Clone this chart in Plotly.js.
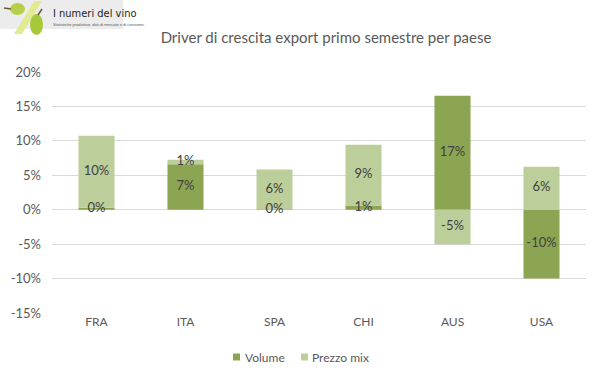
<!DOCTYPE html>
<html>
<head>
<meta charset="utf-8">
<script src="https://cdn.plot.ly/plotly-3.0.1.min.js"></script>
<style>html,body{margin:0;padding:0;background:#fff;}#chart{width:599px;height:378px;}</style>
</head>
<body>
<div id="chart"></div>
<script>
var categories = ["FRA", "ITA", "SPA", "CHI", "AUS", "USA"];
var volume = [0.3, 6.6, 0.05, 0.6, 16.55, -10.0];
var prezzoMix = [10.45, 0.65, 5.8, 8.85, -5.0, 6.25];
var seriesNames = ["Volume", "Prezzo mix"];
var seriesColors = ["#8ca552", "#bccf9a"];
var tickValues = [-15, -10, -5, 0, 5, 10, 15, 20];
var tickLabels = ["-15%", "-10%", "-5%", "0%", "5%", "10%", "15%", "20%"];

var W = 599, H = 378, L = 52, R = 13, T = 72, B = 65;
var pw = W - L - R, ph = H - T - B;
function px(x) { return (x - L) / pw; }
function py(y) { return (H - B - y) / ph; }
function lbl(v) { return Math.round(v) + "%"; }

var textColor = "#404040";
var font = "Lato, 'Liberation Sans', sans-serif";

// label positions: middle of each stacked segment (relative stacking)
var volMid = [], preMid = [];
for (var i = 0; i < categories.length; i++) {
  var pos = 0, neg = 0;
  if (volume[i] >= 0) { volMid.push(volume[i] / 2); pos += volume[i]; }
  else { volMid.push(volume[i] / 2); neg += volume[i]; }
  if (prezzoMix[i] >= 0) preMid.push(pos + prezzoMix[i] / 2);
  else preMid.push(neg + prezzoMix[i] / 2);
}

var traces = [
  {type: "bar", name: seriesNames[0], x: categories, y: volume,
   marker: {color: seriesColors[0]}, hoverinfo: "none", showlegend: false},
  {type: "bar", name: seriesNames[1], x: categories, y: prezzoMix,
   marker: {color: seriesColors[1]}, hoverinfo: "none", showlegend: false},
  {type: "scatter", mode: "text", x: categories, y: volMid, text: volume.map(lbl),
   textposition: "middle center", cliponaxis: false, showlegend: false, hoverinfo: "none",
   textfont: {color: textColor, size: 13, family: font}},
  {type: "scatter", mode: "text", x: categories, y: preMid, text: prezzoMix.map(lbl),
   textposition: "middle center", cliponaxis: false, showlegend: false, hoverinfo: "none",
   textfont: {color: textColor, size: 13, family: font}}
];

var shapes = [
  {type: "rect", xref: "paper", yref: "paper", x0: px(0), x1: px(123), y0: py(29), y1: py(0),
   fillcolor: "#ececec", line: {width: 0}, layer: "above"},
  {type: "path", xref: "paper", yref: "paper",
   path: "M" + px(14) + "," + py(34) + " L" + px(22) + "," + py(34) + " L" + px(42) + "," + py(1) + " L" + px(34) + "," + py(1) + " Z",
   fillcolor: "#e2eb93", line: {width: 0}, layer: "above"},
  {type: "circle", xref: "paper", yref: "paper", x0: px(10), x1: px(25), y0: py(15), y1: py(3),
   fillcolor: "#b5cf4a", line: {width: 0}, layer: "above"},
  {type: "circle", xref: "paper", yref: "paper", x0: px(30), x1: px(43), y0: py(35), y1: py(14),
   fillcolor: "#a8c83c", line: {width: 0}, layer: "above"},
  {type: "line", xref: "paper", yref: "paper", x0: px(4), x1: px(11), y0: py(8), y1: py(9),
   line: {color: "#6b5a2e", width: 1.5}, layer: "above"},
  {type: "line", xref: "paper", yref: "paper", x0: px(38), x1: px(42), y0: py(15), y1: py(9),
   line: {color: "#6b5a2e", width: 1.5}, layer: "above"},
  // legend swatches
  {type: "rect", xref: "paper", yref: "paper", x0: px(233), x1: px(240), y0: py(360.5), y1: py(353.5),
   fillcolor: seriesColors[0], line: {width: 0}},
  {type: "rect", xref: "paper", yref: "paper", x0: px(301), x1: px(308), y0: py(360.5), y1: py(353.5),
   fillcolor: seriesColors[1], line: {width: 0}}
];

var annotations = [
  {text: "I numeri del vino", xref: "paper", yref: "paper", x: px(51), y: py(14),
   xanchor: "left", yanchor: "middle", showarrow: false,
   font: {family: "'Liberation Sans Narrow', 'DejaVu Sans Condensed', sans-serif", size: 11, color: "#222"}},
  {text: "Statistiche produttive, dati di mercato e di consumo.", xref: "paper", yref: "paper",
   x: px(51), y: py(24), xanchor: "left", yanchor: "middle", showarrow: false,
   font: {family: "'Liberation Sans', sans-serif", size: 4, color: "#555"}},
  {text: seriesNames[0], xref: "paper", yref: "paper", x: px(243), y: py(357),
   xanchor: "left", yanchor: "middle", showarrow: false,
   font: {family: font, size: 12, color: "#595959"}},
  {text: seriesNames[1], xref: "paper", yref: "paper", x: px(310), y: py(357),
   xanchor: "left", yanchor: "middle", showarrow: false,
   font: {family: font, size: 12, color: "#595959"}}
];

var layout = {
  width: W, height: H,
  margin: {l: L, r: R, t: T, b: B, pad: 0},
  paper_bgcolor: "#ffffff", plot_bgcolor: "#ffffff",
  font: {family: font, color: "#595959", size: 12},
  title: {text: "Driver di crescita export primo semestre per paese",
          font: {family: font, size: 15, color: "#595959"},
          xref: "container", yref: "container", x: 326 / W, y: 1 - 38 / H,
          xanchor: "center", yanchor: "middle"},
  barmode: "relative",
  bargap: 0.595,
  showlegend: false,
  xaxis: {type: "category", showgrid: false, zeroline: false, showline: false,
          ticks: "", tickfont: {size: 12, color: "#595959", family: font}},
  yaxis: {range: [-15, 20], tickvals: tickValues, ticktext: tickLabels,
          showgrid: true, gridcolor: "#d9d9d9", gridwidth: 1,
          zeroline: true, zerolinecolor: "#d9d9d9", zerolinewidth: 1,
          showline: false, ticks: "", ticklabelstandoff: 10,
          tickfont: {size: 13, color: "#595959", family: font}},
  shapes: shapes,
  annotations: annotations
};

Plotly.newPlot("chart", traces, layout, {displayModeBar: false, staticPlot: true});
</script>
</body>
</html>
